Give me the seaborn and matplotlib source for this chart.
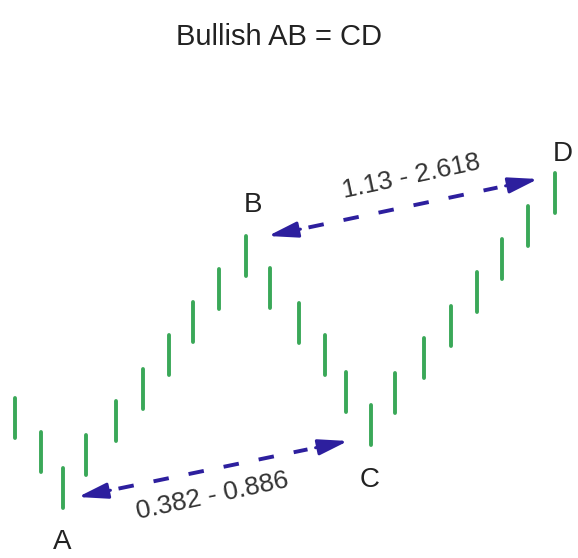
import matplotlib
matplotlib.use("Agg")
import matplotlib.pyplot as plt
import numpy as np
import pandas as pd
import seaborn as sns

# Datos del patron (posicion horizontal y precio de cada barra)
bar_x = [15, 41, 63, 86, 116, 143, 169, 193, 219, 246, 270, 299,
         325, 346, 371, 395, 424, 451, 477, 502, 528, 555]
bar_high = [160, 126, 90, 123, 157, 189, 223, 256, 289, 322, 290, 255,
            223, 186, 153, 185, 220, 252, 286, 319, 352, 385]
bar_low = [120, 86, 50, 83, 117, 149, 183, 216, 249, 282, 250, 215,
           183, 146, 113, 145, 180, 212, 246, 279, 312, 345]

# Indices de los puntos del patron
idx_A, idx_B, idx_C, idx_D = 2, 9, 14, 21
ratio_BD = "1.13 - 2.618"
ratio_AC = "0.382 - 0.886"
title = "Bullish AB = CD"

green = "#3aa858"
blue = "#2d1f9e"

sns.set_theme(style="white")
plt.rcParams['font.family'] = ['Liberation Sans', 'DejaVu Sans']

df = pd.DataFrame({
    't': np.repeat(bar_x, 2),
    'price': np.ravel(np.column_stack([bar_low, bar_high])),
})

fig = plt.figure(figsize=(5.78, 5.58), dpi=100)
ax = fig.add_axes([0, 0, 1, 1])

sns.lineplot(data=df, x='t', y='price', units='t', estimator=None,
             color=green, lw=2.8, ax=ax, legend=False)


def dashed_arrow(p0, p1):
    p0 = np.array(p0, dtype=float)
    p1 = np.array(p1, dtype=float)
    d = p1 - p0
    # linea discontinua
    a = p0 + 0.15 * d
    b = p0 + 0.85 * d
    ax.plot([a[0], b[0]], [a[1], b[1]], color=blue, lw=2.8,
            dashes=(4.0, 5.2), solid_capstyle='butt')
    # puntas
    for tip, tail in [(p0, p0 + 0.12 * d), (p1, p1 - 0.12 * d)]:
        ax.annotate('', xy=tip, xytext=tail,
                    arrowprops=dict(arrowstyle='-|>,head_length=0.6,head_width=0.16',
                                    mutation_scale=30, lw=2.2, color=blue,
                                    shrinkA=0, shrinkB=0))


# B -> D
dashed_arrow((bar_x[idx_B] + 22, bar_high[idx_B]), (bar_x[idx_D] - 17, bar_high[idx_D] - 6))
# A -> C
dashed_arrow((bar_x[idx_A] + 15, bar_low[idx_A] + 11), (bar_x[idx_C] - 23, bar_low[idx_C] + 4))

ax.text(411, 558 - 177, ratio_BD, rotation=12, ha='center', va='center',
        fontsize=19, color='#333333', rotation_mode='anchor')
ax.text(212, 558 - 496, ratio_AC, rotation=12, ha='center', va='center',
        fontsize=19, color='#333333', rotation_mode='anchor')

lbl = dict(fontsize=20, color='#222222', ha='center', va='center')
ax.text(bar_x[idx_A] - 1, bar_low[idx_A] - 34, "A", **lbl)
ax.text(bar_x[idx_B] + 7, bar_high[idx_B] + 31, "B", **lbl)
ax.text(bar_x[idx_C] - 1, bar_low[idx_C] - 35, "C", **lbl)
ax.text(bar_x[idx_D] + 8, bar_high[idx_D] + 19, "D", **lbl)

ax.text(279, 558 - 37, title, fontsize=21, color='#222222', ha='center', va='center')

ax.set_xlim(0, 578)
ax.set_ylim(0, 558)
ax.axis('off')

fig.savefig("out.png", dpi=100, facecolor='white')
